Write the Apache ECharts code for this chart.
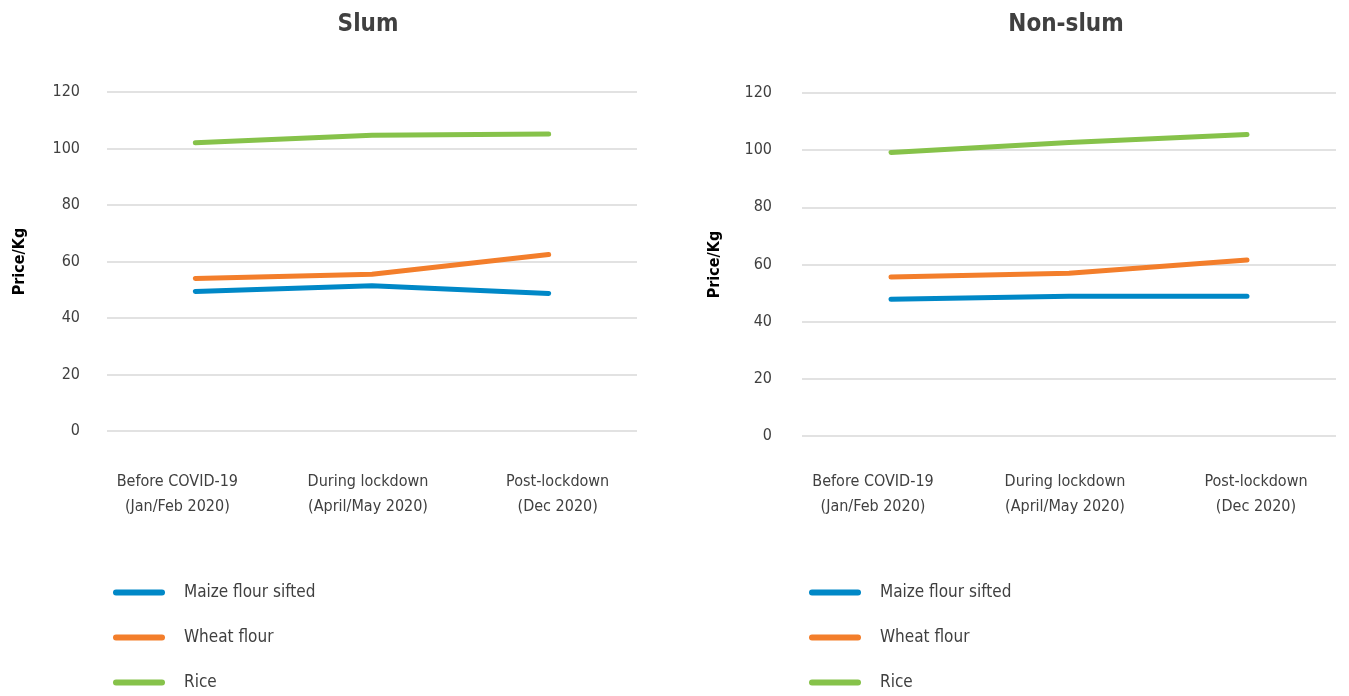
<!DOCTYPE html>
<html>
<head>
<meta charset="utf-8">
<script src="https://cdn.jsdelivr.net/npm/echarts@6/dist/echarts.min.js"></script>
<style>
  html, body { margin: 0; padding: 0; background: #fff; }
  #chart { width: 1349px; height: 696px; }
</style>
</head>
<body>
<div id="chart"></div>
<script>
// Food prices per kg, by period, for slum and non-slum households
const periods = ['Before COVID-19\n(Jan/Feb 2020)', 'During lockdown\n(April/May 2020)', 'Post-lockdown\n(Dec 2020)'];
const seriesNames = ['Maize flour sifted', 'Wheat flour', 'Rice'];

const slumMaize = [49.4, 51.4, 48.7];
const slumWheat = [54.0, 55.5, 62.5];
const slumRice = [102.0, 104.7, 105.1];

const nonSlumMaize = [47.8, 48.9, 48.9];
const nonSlumWheat = [55.6, 56.9, 61.6];
const nonSlumRice = [99.2, 102.7, 105.5];

const panelTitles = ['Slum', 'Non-slum'];
const yAxisName = 'Price/Kg';

const colors = ['#0088C7', '#F37E2B', '#86C24A'];
const FONT = "'Liberation Sans Narrow', 'DejaVu Sans Condensed', 'Open Sans', sans-serif";
const TEXT = '#404040';

const chart = echarts.init(document.getElementById('chart'));

const grids = [
  { left: 107, right: 1349 - 637, top: 92, bottom: 696 - 431 },
  { left: 802, right: 1349 - 1336, top: 93, bottom: 696 - 436 }
];

// horizontal nudge of each category label (px, negative = left)
const labelShift = [-18, -4, 9];

function xAxis(i, margin) {
  const rich = {};
  labelShift.forEach((s, k) => {
    rich['c' + k] = {
      fontFamily: FONT, fontSize: 16, color: TEXT, lineHeight: 25,
      padding: s < 0 ? [0, -2 * s, 0, 0] : [0, 0, 0, 2 * s]
    };
  });
  return {
    type: 'category', gridIndex: i, data: periods, boundaryGap: true,
    axisLine: { show: false }, axisTick: { show: false },
    axisLabel: {
      margin: margin, interval: 0, fontFamily: FONT, fontSize: 16, color: TEXT, lineHeight: 25,
      formatter: (v, k) => v.split('\n').map(t => '{c' + k + '|' + t + '}').join('\n'),
      rich: rich
    }
  };
}
function yAxis(i, margin, nameGap) {
  return {
    type: 'value', gridIndex: i, min: 0, max: 120, interval: 20,
    name: yAxisName, nameLocation: 'middle', nameGap: nameGap, nameRotate: 90,
    nameTextStyle: { fontFamily: FONT, fontSize: 16, fontWeight: 'bold', color: '#000' },
    axisLine: { show: false }, axisTick: { show: false },
    axisLabel: { margin: margin, fontFamily: FONT, fontSize: 16, color: TEXT },
    splitLine: { lineStyle: { color: '#D9D9D9', width: 1.5 } }
  };
}
function line(name, data, idx, color) {
  return {
    type: 'line', name: name, data: data, xAxisIndex: idx, yAxisIndex: idx,
    showSymbol: false, symbol: 'none', color: color,
    lineStyle: { width: 5, color: color, cap: 'round', join: 'round' },
    emphasis: { disabled: true }, animation: false
  };
}
const capsule = 'path://M3,0 H49 A3,3 0 0 1 49,6 H3 A3,3 0 0 1 3,0 Z';
function legend(left) {
  return {
    data: seriesNames, orient: 'vertical', left: left, top: 579, itemGap: 28,
    itemWidth: 52, itemHeight: 6, icon: capsule,
    textStyle: { fontFamily: FONT, fontSize: 17, color: TEXT, padding: [0, 0, 0, 14] }
  };
}

chart.setOption({
  animation: false,
  title: [
    { text: panelTitles[0], left: 363, top: 8, textAlign: 'center',
      textStyle: { fontFamily: FONT, fontSize: 24, fontWeight: 'bold', color: TEXT } },
    { text: panelTitles[1], left: 1061, top: 8, textAlign: 'center',
      textStyle: { fontFamily: FONT, fontSize: 24, fontWeight: 'bold', color: TEXT } }
  ],
  legend: [legend(108), legend(804)],
  grid: grids,
  xAxis: [xAxis(0, 38), xAxis(1, 33)],
  yAxis: [yAxis(0, 27, 79), yAxis(1, 30, 79)],
  series: [
    line(seriesNames[0], slumMaize, 0, colors[0]),
    line(seriesNames[1], slumWheat, 0, colors[1]),
    line(seriesNames[2], slumRice, 0, colors[2]),
    line(seriesNames[0], nonSlumMaize, 1, colors[0]),
    line(seriesNames[1], nonSlumWheat, 1, colors[1]),
    line(seriesNames[2], nonSlumRice, 1, colors[2])
  ]
});
</script>
</body>
</html>
